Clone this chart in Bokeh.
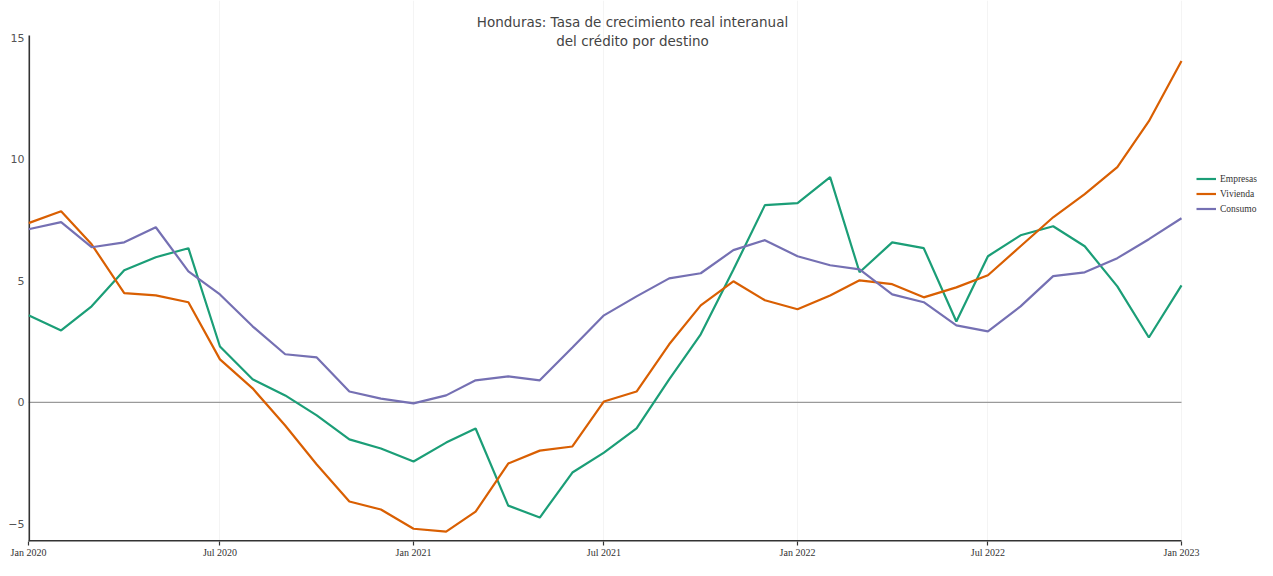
import pandas as pd
from bokeh.plotting import figure
from bokeh.models import FixedTicker, Label, Range1d
from bokeh.embed import file_html
from bokeh.resources import INLINE

# ---- data ----
months = pd.date_range("2020-01-01", "2023-01-01", freq="MS")

empresas = [3.58, 2.96, 3.95, 5.43, 5.97, 6.34, 2.30, 0.95, 0.29, -0.53, -1.52, -1.89,
            -2.43, -1.65, -1.07, -4.24, -4.73, -2.88, -2.06, -1.07, 0.95, 2.80, 5.45, 8.11,
            8.19, 9.26, 5.35, 6.58, 6.34, 3.33, 6.01, 6.87, 7.24, 6.42, 4.77, 2.67, 4.81]
vivienda = [7.37, 7.86, 6.50, 4.49, 4.40, 4.12, 1.77, 0.58, -0.95, -2.55, -4.07, -4.40,
            -5.19, -5.31, -4.49, -2.51, -1.98, -1.81, 0.04, 0.45, 2.39, 3.99, 4.98, 4.20,
            3.83, 4.40, 5.02, 4.86, 4.32, 4.73, 5.23, 6.42, 7.61, 8.56, 9.67, 11.56, 14.03]
consumo = [7.12, 7.41, 6.38, 6.58, 7.20, 5.39, 4.44, 3.13, 1.98, 1.85, 0.45, 0.16,
           -0.04, 0.29, 0.91, 1.07, 0.91, 2.26, 3.58, 4.36, 5.10, 5.31, 6.26, 6.67,
           6.01, 5.64, 5.47, 4.44, 4.12, 3.17, 2.92, 3.95, 5.19, 5.35, 5.93, 6.71, 7.57]

series_names = ["Empresas", "Vivienda", "Consumo"]
series_colors = ["#1b9e77", "#d95f02", "#7570b3"]

x_tick_dates = ["2020-01-01", "2020-07-01", "2021-01-01", "2021-07-01",
                "2022-01-01", "2022-07-01", "2023-01-01"]
x_tick_labels = ["Jan 2020", "Jul 2020", "Jan 2021", "Jul 2021",
                 "Jan 2022", "Jul 2022", "Jan 2023"]
y_ticks = [-5, 0, 5, 10, 15]
y_tick_labels = ["\u22125", "0", "5", "10", "15"]

title_lines = ["Honduras: Tasa de crecimiento real interanual", "del crédito por destino"]

# ---- geometry ----
def ms(d):
    return pd.Timestamp(d).value / 1e6

x0, x1 = ms("2020-01-01"), ms("2023-01-01")
span = x1 - x0
px_x = 1153.0 / span                 # px per ms in the plotted area
x_end = x1 + 76.0 / px_x             # frame continues to the right for the legend

px_y = 24.33                         # px per unit
y_axis_top = 15.08
y_top = 15 + 37.0 / px_y
y_bottom = y_top - 541.0 / px_y

W, H = 1257, 560
p = figure(width=W, height=H, x_axis_type="datetime",
           output_backend="svg", toolbar_location=None,
           x_range=Range1d(x0, x_end), y_range=Range1d(y_bottom, y_top),
           min_border_left=28, min_border_right=0, min_border_top=0,
           min_border_bottom=0)
p.outline_line_color = None
p.background_fill_color = "white"

p.xgrid.grid_line_color = "#f4f4f4"
p.ygrid.grid_line_color = None

# axis lines and zero line drawn over the data extent only
p.segment(x0=[x0], y0=[0], x1=[x1], y1=[0], line_color="#9a9a9a", line_width=1.3)
p.segment(x0=[x0], y0=[y_bottom], x1=[x0], y1=[y_axis_top], line_color="#333333", line_width=3.2)
p.segment(x0=[x0], y0=[y_bottom], x1=[x1], y1=[y_bottom], line_color="#333333", line_width=3.2)

for name, vals, col in zip(series_names, [empresas, vivienda, consumo], series_colors):
    p.line(months, vals, line_color=col, line_width=2.2, legend_label=name)

# x axis
xt = [ms(d) for d in x_tick_dates]
p.xaxis.ticker = FixedTicker(ticks=xt)
p.xaxis.major_label_overrides = {t: l for t, l in zip(xt, x_tick_labels)}
p.xaxis.major_label_text_font = "Liberation Serif"
p.xaxis.major_label_text_font_size = "10px"
p.xaxis.major_label_text_color = "#333333"
p.xaxis.major_label_standoff = 1
p.xaxis.major_tick_out = 4
p.xaxis.major_tick_in = 0
p.xaxis.minor_tick_line_color = None
p.xaxis.axis_line_color = None
p.xaxis.major_tick_line_color = "#333333"
p.xaxis.major_tick_line_width = 1.2

# y axis
p.yaxis.ticker = FixedTicker(ticks=y_ticks)
p.yaxis.major_label_overrides = {t: l for t, l in zip(y_ticks, y_tick_labels)}
p.yaxis.major_label_text_font = "DejaVu Sans"
p.yaxis.major_label_text_font_size = "11px"
p.yaxis.major_label_text_color = "#555555"
p.yaxis.major_label_standoff = 4
p.yaxis.major_tick_out = 0
p.yaxis.major_tick_in = 0
p.yaxis.major_tick_line_color = None
p.yaxis.minor_tick_line_color = None
p.yaxis.axis_line_color = None

# title (inside the frame area, above the data)
x_title = x0 + (633.0 - 29.0) / px_x
p.add_layout(Label(x=x_title, y=15, y_offset=16, text=title_lines[0],
                   text_align="center", text_baseline="middle",
                   text_font="DejaVu Sans", text_font_size="13.5px", text_color="#444444"))
p.add_layout(Label(x=x_title, y=15, y_offset=-3, text=title_lines[1],
                   text_align="center", text_baseline="middle",
                   text_font="DejaVu Sans", text_font_size="13.5px", text_color="#444444"))

# legend
leg = p.legend[0]
leg.location = (1168, 325)
leg.label_text_font = "Liberation Serif"
leg.label_text_font_size = "9.5px"
leg.label_text_color = "#333333"
leg.glyph_width = 20
leg.glyph_height = 15
leg.label_height = 15
leg.label_standoff = 4
leg.spacing = 0
leg.padding = 0
leg.margin = 0
leg.border_line_color = None
leg.background_fill_alpha = 0

open("out.html", "w").write(file_html(p, INLINE))
